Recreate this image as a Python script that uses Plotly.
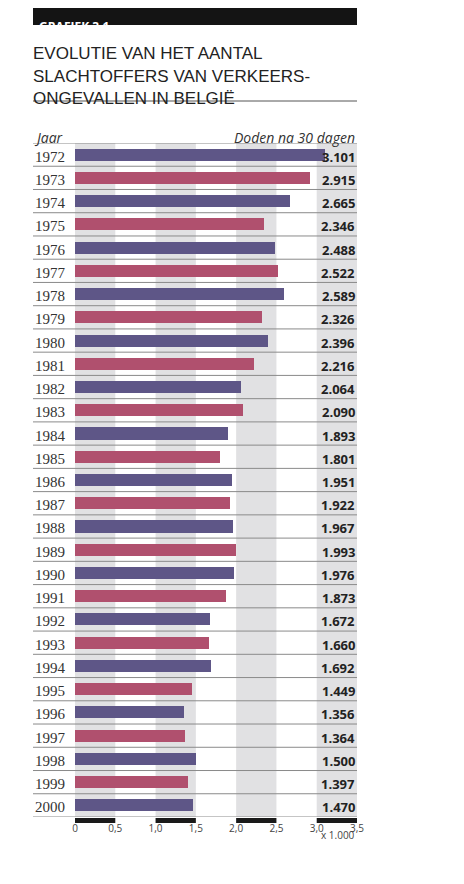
import plotly.graph_objects as go

years = [str(y) for y in range(1972, 2001)]
deaths = [3101, 2915, 2665, 2346, 2488, 2522, 2589, 2326, 2396, 2216, 2064, 2090,
          1893, 1801, 1951, 1922, 1967, 1993, 1976, 1873, 1672, 1660, 1692, 1449,
          1356, 1364, 1500, 1397, 1470]
tick_vals = [0, 0.5, 1.0, 1.5, 2.0, 2.5, 3.0, 3.5]
tick_text = ['0', '0,5', '1,0', '1,5', '2,0', '2,5', '3,0', '3,5']
title_lines = ['EVOLUTIE VAN HET AANTAL', 'SLACHTOFFERS VAN VERKEERS-', 'ONGEVALLEN IN BELGIË']

PURPLE = '#5e5687'
PINK = '#b0506e'
O = 8  # page body margin
W, H = 464 - O - 8, 884 - O - 8
L, R, T, B = 75, 357, 143, 817

def px(x):
    return (x - L) / (R - L)

def py(y):
    return (B - y) / (B - T)

fig = go.Figure()
fig.add_trace(go.Bar(
    y=list(range(len(years))), x=[d / 1000 for d in deaths], orientation='h',
    marker=dict(color=[PURPLE if i % 2 == 0 else PINK for i in range(len(years))], line=dict(width=0)),
    width=0.52, showlegend=False,
))

shapes = []
# grey bands and black axis blocks
for a in [0, 1.0, 2.0, 3.0]:
    shapes.append(dict(type='rect', xref='x', yref='paper', x0=a, x1=a + 0.5, y0=0, y1=1,
                       fillcolor='#e1e1e3', line=dict(width=0), layer='below'))
    shapes.append(dict(type='rect', xref='x', yref='paper', x0=a, x1=a + 0.5, y0=py(823), y1=py(818),
                       fillcolor='#1a1a1a', line=dict(width=0)))
# row separators
for i in range(len(years) + 1):
    shapes.append(dict(type='line', xref='paper', yref='y', x0=px(33), x1=1, y0=i - 0.5, y1=i - 0.5,
                       line=dict(color='#8a8a8a', width=1)))
# header
shapes.append(dict(type='rect', xref='paper', yref='paper', x0=px(33), x1=1, y0=py(25), y1=py(6),
                   fillcolor='#141414', line=dict(width=0)))
shapes.append(dict(type='line', xref='paper', yref='paper', x0=px(33), x1=1, y0=py(101), y1=py(101),
                   line=dict(color='#555', width=1)))
shapes.append(dict(type='rect', xref='paper', yref='paper', x0=px(33), x1=1, y0=py(888), y1=py(881),
                   fillcolor='#141414', line=dict(width=0)))

ann = []
for i, (yr, d) in enumerate(zip(years, deaths)):
    ann.append(dict(xref='paper', yref='y', x=px(33), y=i, text=yr, showarrow=False, xanchor='left',
                    yshift=-2, font=dict(family='Liberation Serif', size=15, color='#333')))
    ann.append(dict(xref='x', yref='y', x=3.5, y=i, text='<b>' + f'{d:,}'.replace(',', '.') + '</b>',
                    showarrow=False, xanchor='right', yshift=-2,
                    font=dict(family='Open Sans', size=13, color='#222')))
ann.append(dict(xref='paper', yref='paper', x=px(37), y=py(16), text='<b>GRAFIEK 3.1</b>', showarrow=False,
                xanchor='left', font=dict(family='Open Sans', size=12, color='white')))
for k, line in enumerate(title_lines):
    ann.append(dict(xref='paper', yref='paper', x=px(31), y=py(42 + 22.5 * k), text=line,
                    showarrow=False, xanchor='left',
                    font=dict(family='Liberation Sans', size=17, color='#222')))
ann.append(dict(xref='paper', yref='paper', x=px(32), y=py(126), text='<i>Jaar</i>', showarrow=False,
                xanchor='left', font=dict(family='Open Sans', size=14, color='#333')))
ann.append(dict(xref='paper', yref='paper', x=1, y=py(126), text='<i>Doden na 30 dagen</i>', showarrow=False,
                xanchor='right', font=dict(family='Open Sans', size=14, color='#333')))
ann.append(dict(xref='paper', yref='paper', x=1, y=py(844), text='x 1.000', showarrow=False,
                xanchor='right', font=dict(family='Open Sans', size=10, color='#444')))

fig.update_layout(
    width=W, height=H, margin=dict(l=L - O, r=W - (R - O), t=T - O, b=H - (B - O)),
    plot_bgcolor='white', paper_bgcolor='white', bargap=0,
    shapes=shapes, annotations=ann,
    xaxis=dict(range=[0, 3.5], tickvals=tick_vals, ticktext=tick_text, showgrid=False, zeroline=False,
               ticks='', ticklabelstandoff=4, tickfont=dict(family='Open Sans', size=10, color='#444')),
    yaxis=dict(range=[len(years) - 0.5, -0.5], showticklabels=False, showgrid=False, zeroline=False),
)
fig.write_html('out.html')
